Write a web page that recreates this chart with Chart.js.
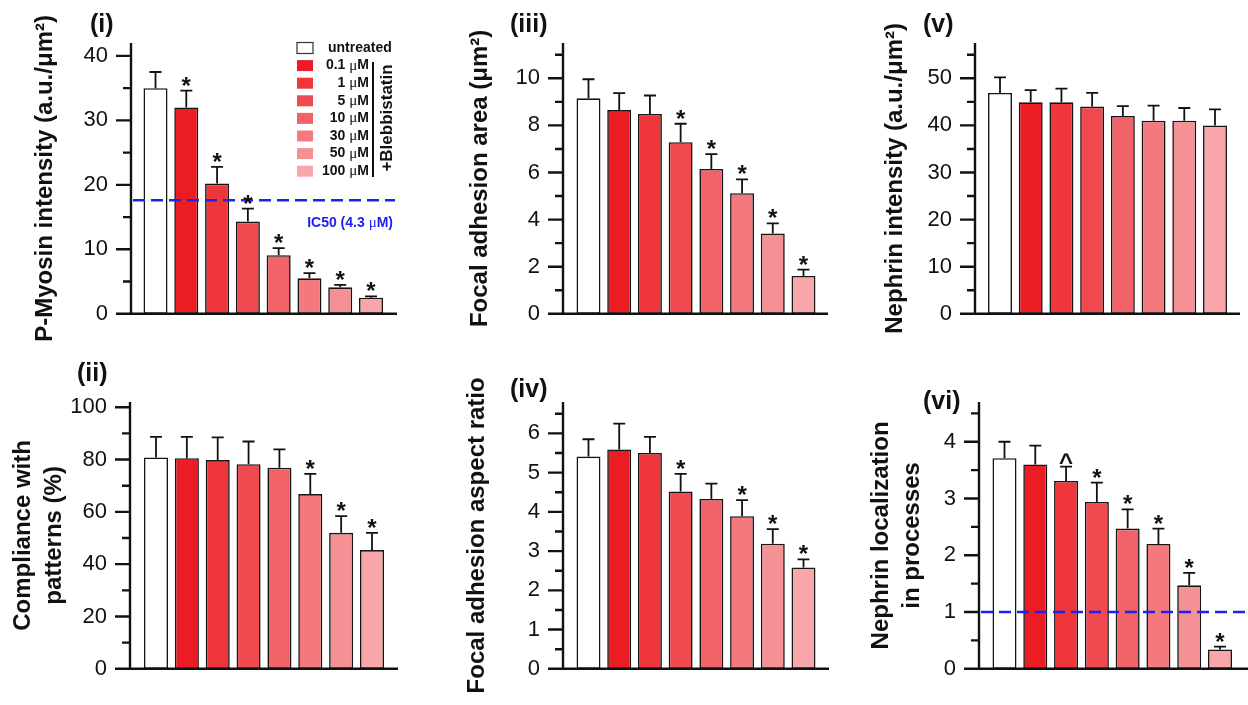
<!DOCTYPE html>
<html>
<head>
<meta charset="utf-8">
<script src="https://cdn.jsdelivr.net/npm/chart.js@4.4.1/dist/chart.umd.min.js"></script>
<style>
  html, body { margin: 0; padding: 0; background: #fff; }
  #fig { position: relative; width: 1248px; height: 705px; overflow: hidden; }
  #fig canvas { position: absolute; }
</style>
</head>
<body>
<div id="fig">
  <canvas id="c1"></canvas><canvas id="c2"></canvas><canvas id="c3"></canvas>
  <canvas id="c4"></canvas><canvas id="c5"></canvas><canvas id="c6"></canvas>
</div>
<script>
const FONT = "'Liberation Sans', Arial, sans-serif";

// groups / colours
const groups    = ['untreated', '0.1 μM', '1 μM', '5 μM', '10 μM', '30 μM', '50 μM', '100 μM'];
const barColors = ['#ffffff', '#ec1c24', '#ee363b', '#ef4a50', '#f16368', '#f3797d', '#f59094', '#f8a6a9'];
const drugLabel = '+Blebbistatin';

// (i) P-Myosin intensity
const myosinMean  = [35.0, 32.0, 20.2, 14.3, 9.1, 5.5, 4.1, 2.5];
const myosinErr   = [2.5, 2.6, 2.6, 2.0, 1.1, 0.8, 0.4, 0.2];
const myosinMarks = ['', '*', '*', '*', '*', '*', '*', '*'];
const myosinTicks = [0, 10, 20, 30, 40];
const ic50Value   = 17.6;
const ic50Label   = 'IC50 (4.3 μM)';

// (ii) compliance with patterns
const complMean  = [80.8, 80.5, 79.8, 78.2, 76.9, 66.8, 52.0, 45.4];
const complErr   = [7.9, 8.2, 8.7, 8.7, 7.0, 7.7, 6.4, 6.6];
const complMarks = ['', '', '', '', '', '*', '*', '*'];
const complTicks = [0, 20, 40, 60, 80, 100];

// (iii) focal adhesion area
const faAreaMean  = [9.15, 8.65, 8.49, 7.29, 6.15, 5.12, 3.41, 1.61];
const faAreaErr   = [0.81, 0.72, 0.78, 0.78, 0.63, 0.59, 0.43, 0.27];
const faAreaMarks = ['', '', '', '*', '*', '*', '*', '*'];
const faAreaTicks = [0, 2, 4, 6, 8, 10];

// (iv) focal adhesion aspect ratio
const faAspMean  = [5.41, 5.59, 5.50, 4.52, 4.33, 3.89, 3.19, 2.58];
const faAspErr   = [0.44, 0.66, 0.41, 0.45, 0.39, 0.41, 0.37, 0.21];
const faAspMarks = ['', '', '', '*', '', '*', '*', '*'];
const faAspTicks = [0, 1, 2, 3, 4, 5, 6];

// (v) nephrin intensity
const nephMean  = [46.9, 44.9, 44.9, 44.0, 42.0, 41.0, 41.0, 40.0];
const nephErr   = [3.3, 2.6, 2.9, 2.9, 2.1, 3.2, 2.7, 3.4];
const nephMarks = ['', '', '', '', '', '', '', ''];
const nephTicks = [0, 10, 20, 30, 40, 50];

// (vi) nephrin localization in processes
const nlocMean  = [3.71, 3.60, 3.31, 2.94, 2.47, 2.20, 1.47, 0.34];
const nlocErr   = [0.29, 0.33, 0.25, 0.34, 0.34, 0.27, 0.22, 0.05];
const nlocMarks = ['', '', '^', '*', '*', '*', '*', '*'];
const nlocTicks = [0, 1, 2, 3, 4];
const nlocRef   = 1;

// left/top/width/height = canvas box, L/T/R/B = plot area in page px
const panels = [
  { id: 'c1', left: 0,   top: 0,   width: 420, height: 350, L: 131, T: 43,  R: 397,  B: 322,
    tag: '(i)', tagX: 90, tagY: 32, title: 'P-Myosin intensity (a.u./μm²)', titlePad: 29.4,
    mean: myosinMean, err: myosinErr, marks: myosinMarks, ticks: myosinTicks, max: 42,
    xMin: 0.204, xMax: 8.844, ref: ic50Value, refEnd: 395, legend: true },
  { id: 'c2', left: 420, top: 0,   width: 420, height: 350, L: 563, T: 43,  R: 828,  B: 322,
    tag: '(iii)', tagX: 510, tagY: 32, title: 'Focal adhesion area (μm²)', titlePad: 44.4,
    mean: faAreaMean, err: faAreaErr, marks: faAreaMarks, ticks: faAreaTicks, max: 11.5,
    xMin: 0.170, xMax: 8.798 },
  { id: 'c3', left: 840, top: 0,   width: 408, height: 350, L: 975, T: 43,  R: 1240, B: 322,
    tag: '(v)', tagX: 923, tagY: 32, title: 'Nephrin intensity (a.u./μm²)', titlePad: 39.4,
    mean: nephMean, err: nephErr, marks: nephMarks, ticks: nephTicks, max: 57.5,
    xMin: 0.186, xMax: 8.814 },
  { id: 'c4', left: 0,   top: 350, width: 420, height: 355, L: 130, T: 402, R: 398,  B: 680.5,
    tag: '(ii)', tagX: 77, tagY: 381, title: ['Compliance with', 'patterns (%)'], titlePad: 7.4,
    mean: complMean, err: complErr, marks: complMarks, ticks: complTicks, max: 102,
    xMin: 0.158, xMax: 8.842 },
  { id: 'c5', left: 420, top: 350, width: 420, height: 355, L: 563, T: 402, R: 829,  B: 680.5,
    tag: '(iv)', tagX: 510, tagY: 397, title: 'Focal adhesion aspect ratio', titlePad: 41.4,
    mean: faAspMean, err: faAspErr, marks: faAspMarks, ticks: faAspTicks, max: 6.8,
    xMin: 0.170, xMax: 8.830 },
  { id: 'c6', left: 840, top: 350, width: 408, height: 355, L: 979, T: 402, R: 1248, B: 680.5,
    tag: '(vi)', tagX: 923, tagY: 409, title: ['Nephrin localization', 'in processes'], titlePad: 25.4,
    mean: nlocMean, err: nlocErr, marks: nlocMarks, ticks: nlocTicks, max: 4.7,
    xMin: 0.172, xMax: 8.909, ref: nlocRef, refEnd: 1248 },
];

// text with the μ drawn from a serif face, like the original
function richText(ctx, str, x, y, size, align) {
  const parts = str.split(/(μ)/).filter(s => s);
  const fonts = parts.map(s => s === 'μ' ? `${size + 1}px 'Liberation Serif', serif` : `bold ${size}px ${FONT}`);
  const widths = parts.map((s, i) => { ctx.font = fonts[i]; return ctx.measureText(s).width; });
  const total = widths.reduce((a, b) => a + b, 0);
  let cx = align === 'right' ? x - total : x;
  ctx.textAlign = 'left';
  parts.forEach((s, i) => { ctx.font = fonts[i]; ctx.fillText(s, cx, y); cx += widths[i]; });
}

function makeDeco(p) {
  return {
    id: 'deco',
    afterDatasetsDraw(chart) {
      const { ctx, chartArea: a, scales: { x, y } } = chart;
      const ox = p.left, oy = p.top;
      ctx.save();

      // dashed reference line
      if (p.ref !== undefined) {
        const yy = y.getPixelForValue(p.ref);
        ctx.strokeStyle = '#2020f0';
        ctx.lineWidth = 2.4;
        ctx.setLineDash([12, 6]);
        ctx.beginPath(); ctx.moveTo(a.left + 2, yy); ctx.lineTo(p.refEnd - ox, yy); ctx.stroke();
        ctx.setLineDash([]);
      }

      // error bars + significance marks
      ctx.strokeStyle = '#111';
      ctx.fillStyle = '#111';
      ctx.lineWidth = 1.8;
      p.mean.forEach((m, i) => {
        const xx = x.getPixelForValue(i + 1);
        const y1 = y.getPixelForValue(m);
        const y2 = y.getPixelForValue(m + p.err[i]);
        ctx.beginPath();
        ctx.moveTo(xx, y1); ctx.lineTo(xx, y2);
        ctx.moveTo(xx - 6, y2); ctx.lineTo(xx + 6, y2);
        ctx.stroke();
        if (p.marks[i]) {
          ctx.font = `bold 24px ${FONT}`;
          ctx.textAlign = 'center';
          ctx.textBaseline = 'alphabetic';
          ctx.fillText(p.marks[i], xx, y2 + (p.marks[i] === '^' ? 3 : 3));
        }
      });

      // axes with major and minor ticks
      ctx.strokeStyle = '#111';
      ctx.lineWidth = 2.4;
      ctx.beginPath();
      ctx.moveTo(a.left, a.top); ctx.lineTo(a.left, a.bottom);
      ctx.moveTo(a.left - 14, a.bottom); ctx.lineTo(a.right, a.bottom);
      const step = p.ticks[1] - p.ticks[0];
      p.ticks.forEach(v => {
        const yy = y.getPixelForValue(v);
        ctx.moveTo(a.left - 15, yy); ctx.lineTo(a.left, yy);
        if (v + step / 2 <= p.max) {
          const ym = y.getPixelForValue(v + step / 2);
          ctx.moveTo(a.left - 8, ym); ctx.lineTo(a.left, ym);
        }
      });
      ctx.stroke();

      // panel tag
      ctx.fillStyle = '#111';
      ctx.font = `bold 25px ${FONT}`;
      ctx.textAlign = 'left';
      ctx.textBaseline = 'alphabetic';
      ctx.fillText(p.tag, p.tagX - ox, p.tagY - oy);

      if (p.ref !== undefined && p.legend) {
        ctx.fillStyle = '#2020f0';
        ctx.textBaseline = 'alphabetic';
        richText(ctx, ic50Label, 393 - ox, 227 - oy, 14, 'right');
      }

      if (p.legend) {
        const bx = 297 - ox, dy = 17.6;
        ctx.textBaseline = 'middle';
        groups.forEach((g, i) => {
          const cy = 48 - oy + i * dy;
          ctx.fillStyle = barColors[i];
          ctx.fillRect(bx, cy - 5.5, 16, 11);
          if (i === 0) {
            ctx.strokeStyle = '#333'; ctx.lineWidth = 1.2;
            ctx.strokeRect(bx, cy - 5.5, 16, 11);
          }
          ctx.fillStyle = '#111';
          if (i === 0) richText(ctx, g, 328 - ox, cy, 14, 'left');
          else richText(ctx, g, 369 - ox, cy, 14, 'right');
        });
        ctx.strokeStyle = '#111'; ctx.lineWidth = 2;
        ctx.beginPath(); ctx.moveTo(373 - ox, 62 - oy); ctx.lineTo(373 - ox, 177 - oy); ctx.stroke();
        ctx.save();
        ctx.translate(387 - ox, 118 - oy);
        ctx.rotate(-Math.PI / 2);
        ctx.font = `bold 17px ${FONT}`;
        ctx.textAlign = 'center';
        ctx.textBaseline = 'middle';
        ctx.fillStyle = '#111';
        ctx.fillText(drugLabel, 0, 0);
        ctx.restore();
      }
      ctx.restore();
    }
  };
}

panels.forEach(p => {
  const cv = document.getElementById(p.id);
  cv.width = p.width; cv.height = p.height;
  cv.style.left = p.left + 'px'; cv.style.top = p.top + 'px';
  cv.style.width = p.width + 'px'; cv.style.height = p.height + 'px';

  new Chart(cv, {
    type: 'bar',
    data: {
      datasets: [{
        data: p.mean.map((m, i) => ({ x: i + 1, y: m })),
        backgroundColor: barColors,
        borderColor: '#151515',
        borderWidth: 1.6,
        borderSkipped: false,
        barPercentage: 0.78,
        categoryPercentage: 1
      }]
    },
    options: {
      responsive: false,
      animation: false,
      devicePixelRatio: 1,
      layout: { padding: { top: p.T - p.top, right: p.left + p.width - p.R, left: 0, bottom: 0 } },
      plugins: { legend: { display: false }, tooltip: { enabled: false } },
      scales: {
        x: {
          type: 'linear', min: p.xMin, max: p.xMax, offset: false,
          ticks: { display: false },
          grid: { display: false, drawTicks: false },
          border: { display: false },
          afterFit: s => { s.height = p.top + p.height - p.B; }
        },
        y: {
          min: 0, max: p.max,
          afterBuildTicks: s => { s.ticks = p.ticks.map(v => ({ value: v })); },
          ticks: { padding: 23, color: '#111', font: { family: FONT, size: 22 } },
          grid: { display: false, drawTicks: false },
          border: { display: false },
          title: {
            display: true, text: p.title, color: '#111',
            font: { family: FONT, size: 24, weight: 'bold', lineHeight: 1.3 },
            padding: { top: p.titlePad, bottom: 0 }
          },
          afterFit: s => { s.width = p.L - p.left; }
        }
      }
    },
    plugins: [makeDeco(p)]
  });
});
</script>
</body>
</html>
